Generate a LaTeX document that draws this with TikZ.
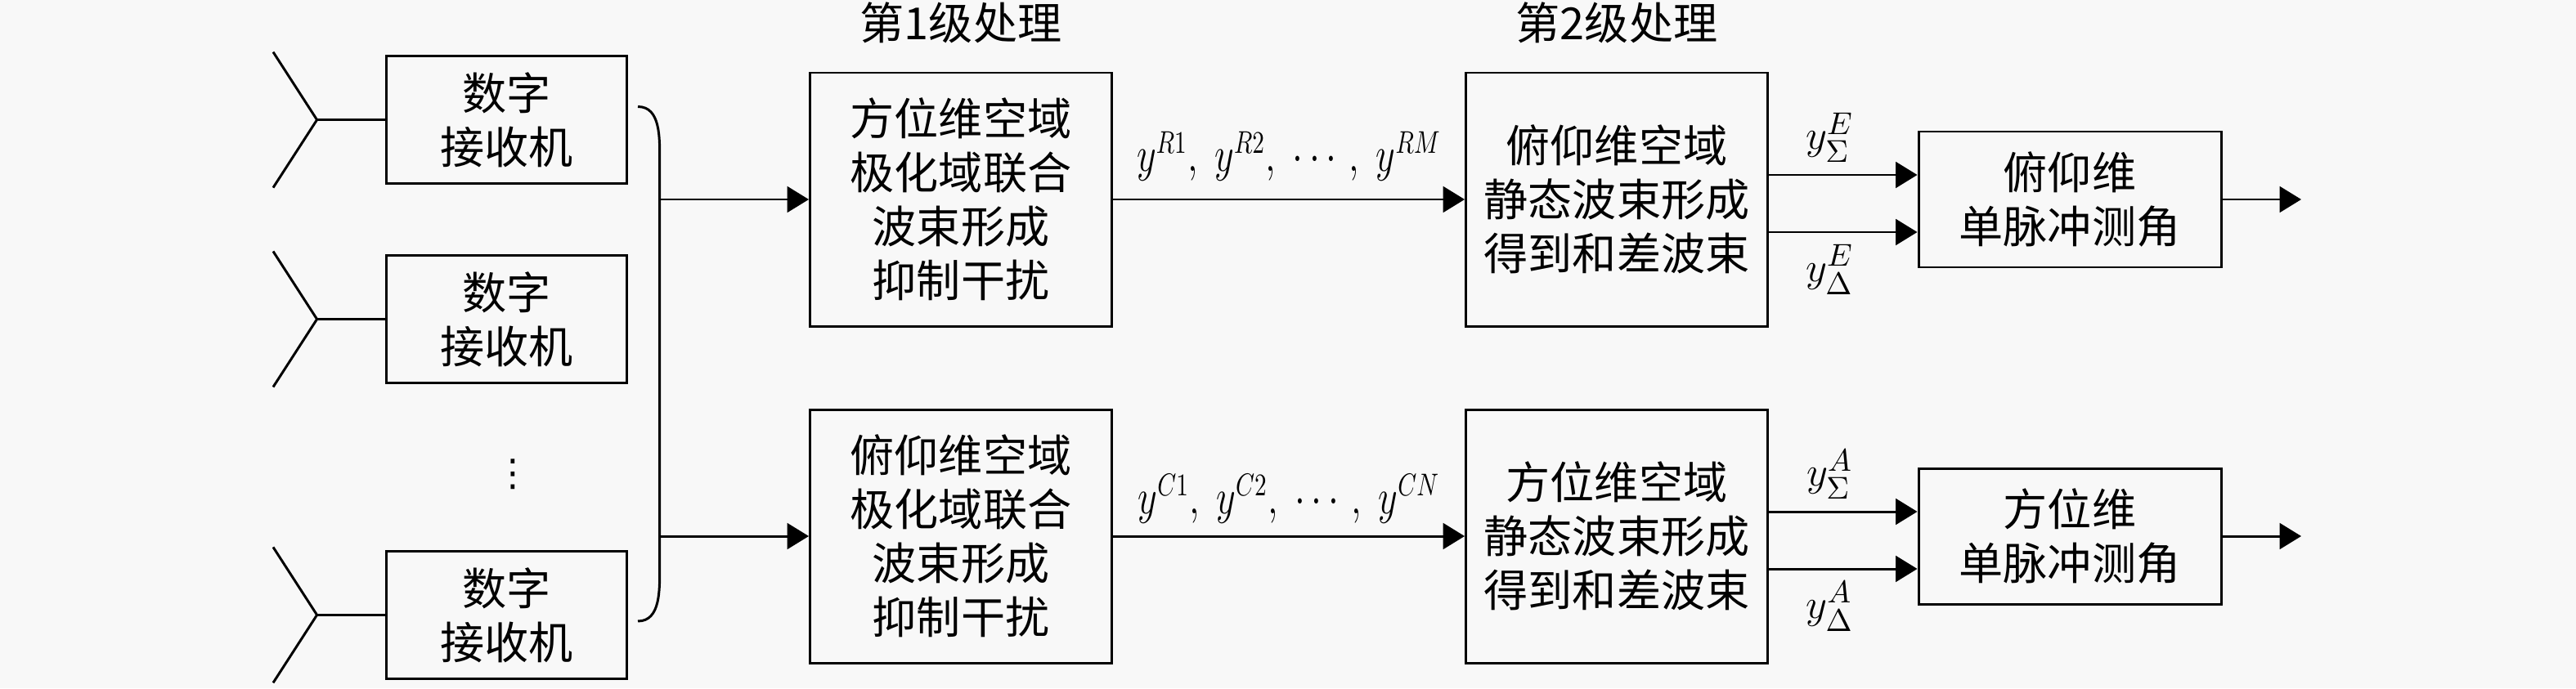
\documentclass[tikz,border=0pt]{standalone}
\usepackage{fontspec}
\usepackage{amsmath}
\usepackage{graphicx}
\usepackage{tikz}
\usetikzlibrary{arrows.meta,positioning,calc}
\newfontfamily\cjk{Noto Sans CJK SC}
\newfontfamily\symfont{DejaVu Sans}
\definecolor{paper}{RGB}{248,248,248}
\newcommand{\narrow}[1]{\scalebox{0.76}[1]{#1}}

\begin{document}
\begin{tikzpicture}[
    box/.style={draw, line width=0.85pt, inner sep=0pt, align=center,
      font=\cjk\fontsize{15.4}{18.8}\selectfont},
    rx/.style={box, minimum width=2.94cm, minimum height=1.56cm},
    stage/.style={box, minimum width=3.69cm, minimum height=3.10cm},
    ang/.style={box, minimum width=3.70cm, minimum height=1.66cm},
    title/.style={font=\cjk\fontsize{15.4}{18.8}\selectfont, inner sep=0pt},
    lbl/.style={font=\fontsize{16}{19}\selectfont, inner sep=2pt},
    sublbl/.style={font=\fontsize{15}{18}\selectfont, inner sep=2pt},
    wire/.style={line width=0.85pt},
    arr/.style={line width=0.85pt, -{Triangle[length=7.5pt,width=9pt]}}
  ]
  \fill[paper] (0,0) rectangle (31.5,8.42);
  \useasboundingbox (0,0) rectangle (31.5,8.42);

  % receivers and antennas
  \node[rx] (rx1) at (6.196, 6.954) {数字\\接收机};
  \node[rx] (rx2) at (6.196, 4.515) {数字\\接收机};
  \node[rx] (rx3) at (6.196, 0.896) {数字\\接收机};
  \node[font=\symfont\fontsize{13}{15}\selectfont, inner sep=0pt] (dots) at (6.27, 2.62) {⋮};

  \foreach \i in {1,2,3} {
    \coordinate (ant\i) at ([xshift=-0.835cm]rx\i.west);
    \draw[wire] (rx\i.west) -- (ant\i);
    \draw[wire] ($(ant\i)+(-0.536,0.83)$) -- (ant\i) -- ($(ant\i)+(-0.536,-0.83)$);
  }

  % brace
  \coordinate (btop) at (7.80, 7.115);
  \coordinate (bbot) at (7.80, 0.82);
  \coordinate (jtop) at (8.067, 5.98);
  \coordinate (jbot) at (8.067, 1.86);
  \draw[wire] (btop) to[out=0,in=90] (8.067,6.45) -- (8.067,1.48) to[out=-90,in=0] (bbot);

  % stage 1
  \node[title] (t1) at (11.75, 8.14) {第1级处理};
  \node[stage] (s1a) at (11.75, 5.98) {方位维空域\\极化域联合\\波束形成\\抑制干扰};
  \node[stage] (s1b) at (11.75, 1.86) {俯仰维空域\\极化域联合\\波束形成\\抑制干扰};

  % stage 2
  \node[title] (t2) at (19.77, 8.14) {第2级处理};
  \node[stage] (s2a) at (19.77, 5.98) {俯仰维空域\\静态波束形成\\得到和差波束};
  \node[stage] (s2b) at (19.77, 1.86) {方位维空域\\静态波束形成\\得到和差波束};

  % monopulse
  \node[ang] (ma) at (25.31, 5.98) {俯仰维\\单脉冲测角};
  \node[ang] (mb) at (25.31, 1.86) {方位维\\单脉冲测角};
  \coordinate (oa) at (28.14, 5.98);
  \coordinate (ob) at (28.14, 1.86);

  \draw[arr] (jtop) -- (s1a.west);
  \draw[arr] (jbot) -- (s1b.west);

  \draw[arr] (s1a) -- node[lbl, above=4pt] (la) {\narrow{$y^{R1},\ y^{R2},\ \cdots,\ y^{RM}$}} (s2a);
  \draw[arr] (s1b) -- node[lbl, above=2pt] (lb) {\narrow{$y^{C1},\ y^{C2},\ \cdots,\ y^{CN}$}} (s2b);

  \draw[arr] ([yshift=0.30cm]s2a.east) -- node[sublbl, above=2pt, pos=0.41] (lea) {$y^{E}_{\Sigma}$} ([yshift=0.30cm]ma.west);
  \draw[arr] ([yshift=-0.40cm]s2a.east) -- node[sublbl, below=2pt, pos=0.41] (leb) {$y^{E}_{\Delta}$} ([yshift=-0.40cm]ma.west);
  \draw[arr] ([yshift=0.30cm]s2b.east) -- node[sublbl, above=2pt, pos=0.41] (laa) {$y^{A}_{\Sigma}$} ([yshift=0.30cm]mb.west);
  \draw[arr] ([yshift=-0.40cm]s2b.east) -- node[sublbl, below=2pt, pos=0.41] (lab) {$y^{A}_{\Delta}$} ([yshift=-0.40cm]mb.west);

  \draw[arr] (ma) -- (oa);
  \draw[arr] (mb) -- (ob);
\end{tikzpicture}
\end{document}
